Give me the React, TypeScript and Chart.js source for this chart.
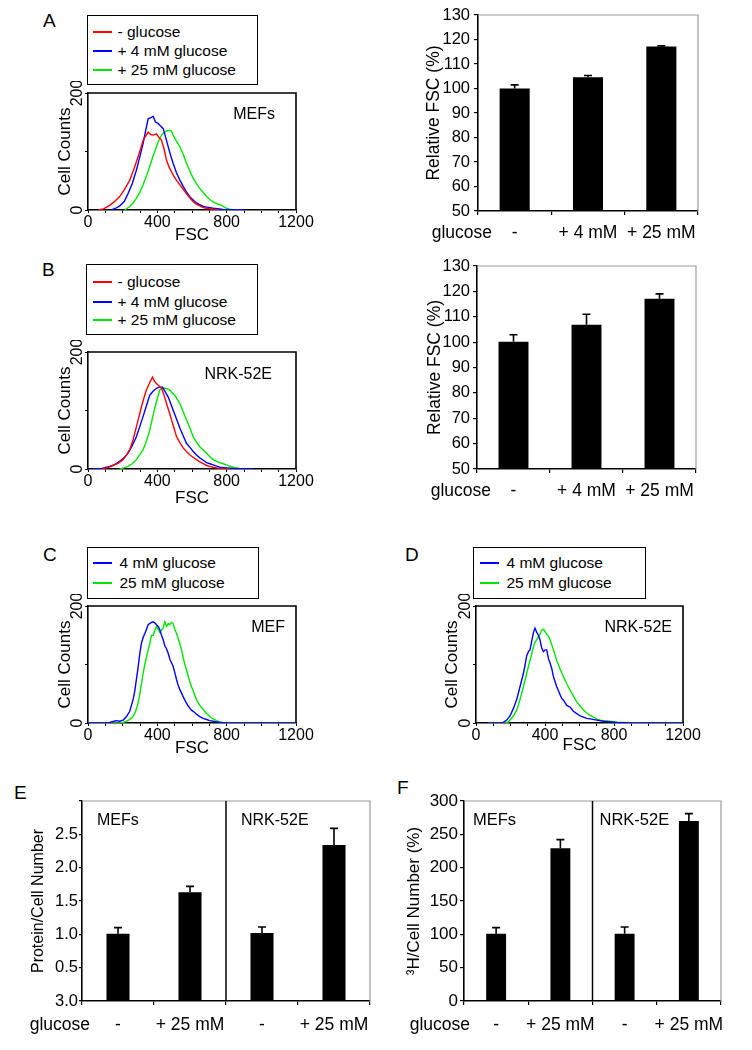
import React, { useEffect, useRef } from "react";
import { Chart, registerables } from "chart.js";

Chart.register(...registerables);

const FONT = "'Liberation Sans', Arial, Helvetica, sans-serif";
Chart.defaults.font.family = FONT;
Chart.defaults.color = "#000";

// ---------------- Histogram data (FSC channel vs. cell counts) ----------------
const A_NOGLC_FSC = [58, 90, 125, 155, 183, 210, 241, 265, 289, 305, 318, 332, 347, 362, 376, 395, 410, 424, 440, 453, 470, 491, 510, 530, 550, 568, 590, 607, 625, 645, 665, 684, 722, 760];
const A_NOGLC_COUNT = [0, 2, 8, 15, 23, 35, 51, 70, 91, 106, 119, 126, 133, 129, 128, 130, 124, 119, 103, 85, 72, 60, 51, 43, 35, 28, 20, 14, 10, 7, 4, 3, 1, 0];
const A_4MM_FSC = [135, 160, 183, 210, 231, 255, 279, 300, 318, 332, 347, 362, 376, 390, 405, 420, 434, 450, 463, 477, 491, 510, 530, 550, 568, 590, 607, 625, 645, 665, 684, 722, 780, 850, 905];
const A_4MM_COUNT = [0, 3, 7, 15, 28, 45, 68, 92, 114, 135, 156, 158, 160, 150, 148, 143, 139, 122, 108, 93, 80, 64, 51, 40, 31, 22, 17, 12, 9, 6, 5, 3, 1, 0.3, 0];
const A_25MM_FSC = [212, 241, 260, 279, 300, 318, 337, 356, 375, 395, 410, 424, 440, 453, 468, 482, 491, 510, 530, 550, 568, 590, 607, 625, 645, 665, 684, 703, 722, 742, 761, 780, 799, 818, 838, 876];
const A_25MM_COUNT = [0, 6, 12, 20, 31, 43, 58, 74, 92, 108, 120, 128, 133, 135, 136, 135, 128, 118, 108, 95, 80, 65, 54, 45, 37, 30, 23, 18, 14, 11, 9, 6, 3, 1.5, 0.5, 0];

const B_NOGLC_FSC = [80, 110, 145, 175, 202, 222, 241, 260, 279, 294, 308, 322, 337, 355, 372, 384, 395, 410, 424, 440, 453, 468, 482, 496, 511, 530, 549, 568, 588, 607, 626, 645, 665, 684, 703, 722, 742, 780, 820];
const B_NOGLC_COUNT = [0, 2, 6, 10, 16, 24, 33, 50, 72, 89, 106, 121, 135, 147, 157, 150, 146, 142, 138, 125, 112, 98, 84, 70, 55, 45, 36, 30, 24, 20, 16, 12, 9, 6, 4.5, 3, 2, 0.5, 0];
const B_4MM_FSC = [29, 80, 125, 155, 183, 207, 231, 255, 279, 298, 318, 337, 356, 375, 395, 412, 430, 447, 463, 477, 491, 510, 530, 549, 568, 588, 607, 626, 645, 665, 684, 703, 722, 742, 761, 800, 838, 900, 953];
const B_4MM_COUNT = [0, 1, 4.5, 8, 13, 19, 27, 40, 55, 72, 90, 108, 126, 133, 138, 140, 140, 131, 123, 112, 101, 86, 70, 57, 44, 37, 30, 24, 19, 15, 11, 9, 7, 5, 3, 2, 1, 0.5, 0];
const B_25MM_FSC = [183, 207, 231, 255, 279, 298, 318, 337, 356, 370, 385, 400, 414, 428, 443, 458, 472, 487, 501, 515, 530, 549, 568, 588, 607, 626, 645, 665, 684, 703, 722, 742, 761, 780, 799, 818, 838, 857, 876, 920];
const B_25MM_COUNT = [0, 2, 4.5, 9, 16, 24, 33, 48, 66, 85, 104, 120, 135, 138, 138, 137, 135, 130, 126, 119, 112, 98, 84, 70, 55, 46, 38, 32, 27, 21, 16, 13, 11, 9, 7, 5, 3, 2, 1, 0];

const C_4MM_FSC = [0, 100, 125, 150, 164, 183, 203, 222, 241, 260, 270, 279, 289, 299, 308, 318, 328, 337, 347, 356, 366, 376, 386, 395, 405, 414, 424, 434, 443, 453, 463, 472, 482, 491, 501, 511, 520, 530, 540, 549, 559, 568, 578, 588, 597, 607, 626, 645, 665, 684, 703, 722, 742, 761, 800, 1200];
const C_4MM_COUNT = [0, 0, 1, 3, 4, 3, 5, 11, 20, 40, 55, 74, 95, 119, 136, 146, 153, 160, 168, 170, 172, 173, 171, 168, 165, 160, 150, 142, 132, 127, 119, 109, 103, 97, 86, 74, 65, 57, 51, 45, 39, 34, 29, 25, 22, 20, 15, 11, 8, 6, 4, 3, 2, 1, 0, 0];
const C_25MM_FSC = [0, 183, 203, 222, 241, 260, 275, 289, 299, 308, 318, 328, 337, 347, 356, 366, 376, 385, 395, 405, 414, 424, 434, 443, 453, 463, 472, 482, 491, 501, 511, 520, 530, 540, 549, 559, 568, 578, 588, 597, 607, 617, 626, 645, 665, 684, 703, 722, 742, 761, 780, 820, 1200];
const C_25MM_COUNT = [0, 0, 1, 3, 6, 11, 20, 34, 50, 66, 85, 100, 112, 125, 135, 150, 150, 158, 165, 160, 155, 159, 162, 173, 165, 170, 168, 172, 170, 160, 153, 145, 135, 125, 112, 100, 91, 80, 70, 62, 55, 47, 40, 30, 23, 16, 11, 7, 4, 2, 1, 0, 0];

const D_4MM_FSC = [72, 140, 159, 178, 197, 217, 236, 255, 275, 285, 294, 304, 313, 323, 333, 342, 352, 362, 371, 381, 391, 401, 410, 420, 430, 440, 449, 459, 468, 478, 488, 497, 507, 526, 546, 565, 584, 604, 623, 642, 662, 700, 739, 778, 817, 860, 900, 1200];
const D_4MM_COUNT = [0, 0, 1, 5, 12, 25, 40, 62, 85, 100, 115, 122, 125, 140, 155, 162, 155, 150, 142, 128, 122, 125, 125, 110, 102, 92, 79, 70, 62, 55, 48, 42, 39, 30, 27, 20, 16, 12, 10, 8, 7, 5, 3, 2, 1, 0.5, 0, 0];
const D_25MM_FSC = [72, 168, 188, 197, 217, 236, 255, 275, 294, 313, 323, 333, 342, 352, 362, 371, 381, 391, 401, 410, 420, 430, 449, 468, 488, 507, 526, 546, 565, 584, 604, 623, 642, 662, 681, 700, 720, 739, 778, 817, 855, 900, 950, 1200];
const D_25MM_COUNT = [0, 0, 2, 5, 12, 22, 40, 62, 85, 107, 118, 130, 138, 142, 148, 152, 159, 160, 156, 152, 148, 142, 125, 107, 92, 79, 67, 56, 46, 36, 29, 22, 17, 13, 10, 7, 5, 4, 3, 1.5, 1, 0.5, 0, 0];

const HIST_X_LABELS = [0, 400, 800, 1200];
const HIST_Y_LABELS = [0, 200];

// ---------------- Bar data ----------------
const GLUCOSE_3 = ["-", "+ 4 mM", "+ 25 mM"];
const A_REL_FSC = [100, 104.6, 117.1];
const A_REL_FSC_ERR = [1.5, 0.7, 0.3];
const B_REL_FSC = [100.1, 106.8, 117.1];
const B_REL_FSC_ERR = [2.8, 4.2, 1.9];

const GLUCOSE_4 = ["-", "+ 25 mM", "-", "+ 25 mM"];
const E_PROTEIN = [1.01, 1.63, 1.02, 2.34];
const E_PROTEIN_ERR = [0.09, 0.09, 0.09, 0.25];
const E_Y_TICK_LABELS = ["3.0", "0.5", "1.0", "1.5", "2.0", "2.5", ""];
const F_THYMIDINE = [101, 229, 101, 270];
const F_THYMIDINE_ERR = [9, 13, 10, 11];

const RED = "#ff0000";
const BLUE = "#0000ff";
const GREEN = "#00e600";

// ---------------- helpers ----------------
const pts = (xs: number[], ys: number[]) => xs.map((x, i) => ({ x, y: ys[i] }));
const fixW = (w: number) => (s: any) => {
  s.width = w;
  s.paddingTop = 0;
  s.paddingBottom = 0;
  s.paddingLeft = 0;
  s.paddingRight = 0;
};
const fixH = (h: number) => (s: any) => {
  s.height = h;
  s.paddingLeft = 0;
  s.paddingRight = 0;
  s.paddingTop = 0;
  s.paddingBottom = 0;
};

type Margins = { L: number; T: number; R: number; B: number };
type Area = { left: number; top: number; w: number; h: number };

function framePlugin(color: string, width: number, divider: boolean) {
  return {
    id: "frame",
    afterDraw(chart: any) {
      const { ctx, chartArea } = chart;
      const { left, right, top, bottom } = chartArea;
      ctx.save();
      ctx.strokeStyle = color;
      ctx.lineWidth = width;
      ctx.beginPath();
      ctx.moveTo(left, top);
      ctx.lineTo(right, top);
      ctx.lineTo(right, bottom);
      ctx.stroke();
      if (divider) {
        const xs = chart.scales.x;
        const dx = (xs.getPixelForValue(1) + xs.getPixelForValue(2)) / 2;
        ctx.strokeStyle = "#000";
        ctx.lineWidth = 1.5;
        ctx.beginPath();
        ctx.moveTo(dx, top);
        ctx.lineTo(dx, bottom);
        ctx.stroke();
      }
      ctx.restore();
    },
  };
}

function rotatedYTicks(values: number[], size: number, gap: number) {
  return {
    id: "rotYTicks",
    afterDraw(chart: any) {
      const { ctx, chartArea } = chart;
      const ys = chart.scales.y;
      ctx.save();
      ctx.font = `${size}px ${FONT}`;
      ctx.fillStyle = "#000";
      ctx.textAlign = "center";
      ctx.textBaseline = "alphabetic";
      for (const v of values) {
        const y = ys.getPixelForValue(v);
        ctx.save();
        ctx.translate(chartArea.left - gap, y);
        ctx.rotate(-Math.PI / 2);
        ctx.fillText(String(v), 0, 0);
        ctx.restore();
      }
      ctx.restore();
    },
  };
}

type Inner = { text: string; from: "left" | "right" | "divider"; dx: number; dy: number; size: number };
function innerText(items: Inner[]) {
  return {
    id: "innerText",
    afterDraw(chart: any) {
      const { ctx, chartArea } = chart;
      ctx.save();
      ctx.fillStyle = "#000";
      ctx.textBaseline = "alphabetic";
      for (const t of items) {
        ctx.font = `${t.size}px ${FONT}`;
        let x = chartArea.left + t.dx;
        ctx.textAlign = "left";
        if (t.from === "right") {
          x = chartArea.right - t.dx;
          ctx.textAlign = "right";
        } else if (t.from === "divider") {
          const xs = chart.scales.x;
          x = (xs.getPixelForValue(1) + xs.getPixelForValue(2)) / 2 + t.dx;
        }
        ctx.fillText(t.text, x, chartArea.top + t.dy);
      }
      ctx.restore();
    },
  };
}

function rowLabel(text: string, dx: number, size: number, tl: number, pad: number) {
  return {
    id: "rowLabel",
    afterDraw(chart: any) {
      const { ctx, chartArea } = chart;
      const xs = chart.scales.x;
      ctx.save();
      ctx.font = `${size}px ${FONT}`;
      ctx.fillStyle = "#000";
      ctx.textAlign = "right";
      ctx.textBaseline = "middle";
      ctx.fillText(text, chartArea.left + dx, xs.top + tl + pad + (size * 1.2) / 2);
      ctx.restore();
    },
  };
}

function errorBars(values: number[], errors: number[], cap: number) {
  return {
    id: "errorBars",
    afterDatasetsDraw(chart: any) {
      const { ctx } = chart;
      const ys = chart.scales.y;
      const meta = chart.getDatasetMeta(0);
      ctx.save();
      ctx.strokeStyle = "#000";
      ctx.lineWidth = 1.6;
      meta.data.forEach((bar: any, i: number) => {
        const top = ys.getPixelForValue(values[i] + errors[i]);
        ctx.beginPath();
        ctx.moveTo(bar.x, bar.y);
        ctx.lineTo(bar.x, top);
        ctx.moveTo(bar.x - cap / 2, top);
        ctx.lineTo(bar.x + cap / 2, top);
        ctx.stroke();
      });
      ctx.restore();
    },
  };
}

// ---------------- configs ----------------
const HM: Margins = { L: 40, T: 12, R: 22, B: 40 };

type Series = { fsc: number[]; count: number[]; color: string };
function histConfig(series: Series[], inner: Inner[], yTitlePad: number, xTitlePad: number) {
  return {
    type: "line",
    data: {
      datasets: series.map((s) => ({
        data: pts(s.fsc, s.count),
        borderColor: s.color,
        borderWidth: 1.4,
        pointRadius: 0,
        tension: 0,
        fill: false,
      })),
    },
    options: {
      responsive: false,
      animation: false,
      events: [],
      layout: { padding: { left: 0, top: HM.T, right: HM.R, bottom: 0 } },
      plugins: { legend: { display: false }, tooltip: { enabled: false } },
      scales: {
        x: {
          type: "linear",
          min: 0,
          max: 1200,
          afterFit: fixH(HM.B),
          border: { color: "#000", width: 1.6 },
          grid: { drawOnChartArea: false, tickLength: 3, color: "#000", lineWidth: 1 },
          ticks: {
            stepSize: 100,
            autoSkip: false,
            maxRotation: 0,
            padding: 0,
            color: "#000",
            font: { size: 16 },
            callback: (v: number) => (HIST_X_LABELS.includes(v) ? String(v) : ""),
          },
          title: { display: true, text: "FSC", color: "#000", font: { size: 17 }, padding: { top: 0, bottom: xTitlePad } },
        },
        y: {
          type: "linear",
          min: 0,
          max: 200,
          afterFit: fixW(HM.L),
          border: { color: "#000", width: 1.6 },
          grid: { drawOnChartArea: false, tickLength: 3, color: "#000", lineWidth: 1 },
          ticks: { stepSize: 100, display: false },
          title: { display: true, text: "Cell Counts", color: "#000", font: { size: 17 }, padding: { top: yTitlePad, bottom: 0 } },
        },
      },
    },
    plugins: [framePlugin("#000", 1.6, false), rotatedYTicks(HIST_Y_LABELS, 16, 6), innerText(inner)],
  };
}

type BarOpts = {
  labels: string[];
  values: number[];
  errors: number[];
  yMin: number;
  yMax: number;
  step: number;
  yTickLabels?: string[];
  title: string;
  titleSize: number;
  titlePad: number;
  tickSize: number;
  tickLen: number;
  tickPad: number;
  xSize: number;
  xPad: number;
  barPct: number;
  m: Margins;
  divider: boolean;
  inner: Inner[];
  rowDx: number;
};

function barConfig(o: BarOpts) {
  return {
    type: "bar",
    data: {
      labels: o.labels,
      datasets: [
        {
          data: o.values,
          backgroundColor: "#000",
          borderWidth: 0,
          barPercentage: o.barPct,
          categoryPercentage: 1,
        },
      ],
    },
    options: {
      responsive: false,
      animation: false,
      events: [],
      layout: { padding: { left: 0, top: o.m.T, right: o.m.R, bottom: 0 } },
      plugins: { legend: { display: false }, tooltip: { enabled: false } },
      scales: {
        x: {
          afterFit: fixH(o.m.B),
          border: { color: "#000", width: 1.6 },
          grid: { offset: true, drawOnChartArea: false, tickLength: 4, color: "#000", lineWidth: 1.2 },
          ticks: { color: "#000", font: { size: o.xSize }, padding: o.xPad, maxRotation: 0, autoSkip: false },
        },
        y: {
          type: "linear",
          min: o.yMin,
          max: o.yMax,
          afterFit: fixW(o.m.L),
          border: { color: "#000", width: 1.6 },
          grid: { drawOnChartArea: false, tickLength: o.tickLen, color: "#000", lineWidth: 1.2 },
          ticks: {
            stepSize: o.step,
            color: "#000",
            padding: o.tickPad,
            font: { size: o.tickSize },
            callback: (v: number, i: number) => (o.yTickLabels ? o.yTickLabels[i] ?? "" : String(v)),
          },
          title: { display: true, text: o.title, color: "#000", font: { size: o.titleSize }, padding: { top: o.titlePad, bottom: 0 } },
        },
      },
    },
    plugins: [
      framePlugin("#9a9a9a", 1.2, o.divider),
      errorBars(o.values, o.errors, 8),
      innerText(o.inner),
      rowLabel("glucose", o.rowDx, o.xSize, 4, o.xPad),
    ],
  };
}

// ---------------- components ----------------
function ChartBox({ area, m, config }: { area: Area; m: Margins; config: any }) {
  const ref = useRef<HTMLCanvasElement | null>(null);
  const w = area.w + m.L + m.R;
  const h = area.h + m.T + m.B;
  useEffect(() => {
    const chart = new Chart(ref.current as HTMLCanvasElement, config);
    return () => chart.destroy();
  }, []);
  return (
    <canvas
      ref={ref}
      width={w}
      height={h}
      style={{ position: "absolute", left: area.left - m.L, top: area.top - m.T, width: w, height: h }}
    />
  );
}

type LegendItem = { label: string; color: string; y: number };
function Legend({ left, top, width, height, lineX, textX, items }: { left: number; top: number; width: number; height: number; lineX: number; textX: number; items: LegendItem[] }) {
  const bw = 1.5;
  return (
    <div
      style={{
        position: "absolute",
        left,
        top,
        width,
        height,
        boxSizing: "border-box",
        border: `${bw}px solid #000`,
        fontFamily: FONT,
      }}
    >
      {items.map((it) => (
        <React.Fragment key={it.label}>
          <div
            style={{
              position: "absolute",
              left: lineX - left - bw,
              top: it.y - top - bw - 1,
              width: 19,
              height: 2,
              background: it.color,
            }}
          />
          <div
            style={{
              position: "absolute",
              left: textX - left - bw,
              top: it.y - top - bw - 9,
              height: 18,
              lineHeight: "18px",
              fontSize: 15.5,
              whiteSpace: "nowrap",
              color: "#000",
            }}
          >
            {it.label}
          </div>
        </React.Fragment>
      ))}
    </div>
  );
}

function Letter({ ch, x, capTop }: { ch: string; x: number; capTop: number }) {
  return (
    <div
      style={{
        position: "absolute",
        left: x,
        top: capTop - 2.5,
        fontFamily: FONT,
        fontSize: 19,
        lineHeight: "19px",
        color: "#000",
      }}
    >
      {ch}
    </div>
  );
}

const BAR_M_AB: Margins = { L: 60, T: 12, R: 15, B: 40 };
const BAR_M_E: Margins = { L: 60, T: 12, R: 15, B: 40 };
const BAR_M_F: Margins = { L: 64, T: 12, R: 15, B: 40 };

export default function App() {
  const histA = histConfig(
    [
      { fsc: A_NOGLC_FSC, count: A_NOGLC_COUNT, color: RED },
      { fsc: A_4MM_FSC, count: A_4MM_COUNT, color: BLUE },
      { fsc: A_25MM_FSC, count: A_25MM_COUNT, color: GREEN },
    ],
    [{ text: "MEFs", from: "right", dx: 21, dy: 25.5, size: 16 }],
    6.8,
    4.3
  );
  const histB = histConfig(
    [
      { fsc: B_NOGLC_FSC, count: B_NOGLC_COUNT, color: RED },
      { fsc: B_4MM_FSC, count: B_4MM_COUNT, color: BLUE },
      { fsc: B_25MM_FSC, count: B_25MM_COUNT, color: GREEN },
    ],
    [{ text: "NRK-52E", from: "right", dx: 24, dy: 26.5, size: 16 }],
    6.8,
    0
  );
  const histC = histConfig(
    [
      { fsc: C_4MM_FSC, count: C_4MM_COUNT, color: BLUE },
      { fsc: C_25MM_FSC, count: C_25MM_COUNT, color: GREEN },
    ],
    [{ text: "MEF", from: "right", dx: 11, dy: 25.5, size: 16 }],
    6.8,
    4.3
  );
  const histD = histConfig(
    [
      { fsc: D_4MM_FSC, count: D_4MM_COUNT, color: BLUE },
      { fsc: D_25MM_FSC, count: D_25MM_COUNT, color: GREEN },
    ],
    [{ text: "NRK-52E", from: "right", dx: 11, dy: 25.5, size: 16 }],
    6.3,
    7.3
  );

  const barA = barConfig({
    labels: GLUCOSE_3,
    values: A_REL_FSC,
    errors: A_REL_FSC_ERR,
    yMin: 50,
    yMax: 130,
    step: 10,
    title: "Relative FSC (%)",
    titleSize: 17.5,
    titlePad: 6,
    tickSize: 16.5,
    tickLen: 4,
    tickPad: 4,
    xSize: 17.5,
    xPad: 8,
    barPct: 0.41,
    m: BAR_M_AB,
    divider: false,
    inner: [],
    rowDx: 14,
  });
  const barB = barConfig({
    labels: GLUCOSE_3,
    values: B_REL_FSC,
    errors: B_REL_FSC_ERR,
    yMin: 50,
    yMax: 130,
    step: 10,
    title: "Relative FSC (%)",
    titleSize: 17.5,
    titlePad: 7.5,
    tickSize: 16.5,
    tickLen: 4,
    tickPad: 3,
    xSize: 17.5,
    xPad: 8,
    barPct: 0.41,
    m: BAR_M_AB,
    divider: false,
    inner: [],
    rowDx: 14,
  });
  const barE = barConfig({
    labels: GLUCOSE_4,
    values: E_PROTEIN,
    errors: E_PROTEIN_ERR,
    yMin: 0,
    yMax: 3,
    step: 0.5,
    yTickLabels: E_Y_TICK_LABELS,
    title: "Protein/Cell Number",
    titleSize: 16,
    titlePad: 7,
    tickSize: 16.5,
    tickLen: 3,
    tickPad: 1,
    xSize: 17.5,
    xPad: 9.5,
    barPct: 0.32,
    m: BAR_M_E,
    divider: true,
    inner: [
      { text: "MEFs", from: "left", dx: 15, dy: 24, size: 16 },
      { text: "NRK-52E", from: "divider", dx: 15, dy: 24, size: 16 },
    ],
    rowDx: 8,
  });
  const barF = barConfig({
    labels: GLUCOSE_4,
    values: F_THYMIDINE,
    errors: F_THYMIDINE_ERR,
    yMin: 0,
    yMax: 300,
    step: 50,
    title: "³H/Cell Number (%)",
    titleSize: 17,
    titlePad: 4.3,
    tickSize: 17,
    tickLen: 4,
    tickPad: 2,
    xSize: 17.5,
    xPad: 9.5,
    barPct: 0.31,
    m: BAR_M_F,
    divider: true,
    inner: [
      { text: "MEFs", from: "left", dx: 9, dy: 24, size: 16.5 },
      { text: "NRK-52E", from: "divider", dx: 7, dy: 24, size: 16.5 },
    ],
    rowDx: 6,
  });

  return (
    <div style={{ position: "absolute", left: 0, top: 0, width: 752, height: 1050, background: "#fff", overflow: "hidden" }}>
      <Letter ch="A" x={43} capTop={13} />
      <Letter ch="B" x={42} capTop={262} />
      <Letter ch="C" x={43} capTop={547} />
      <Letter ch="D" x={405} capTop={547} />
      <Letter ch="E" x={14} capTop={785} />
      <Letter ch="F" x={397} capTop={780} />

      <Legend
        left={87}
        top={15}
        width={171}
        height={70}
        lineX={93}
        textX={118}
        items={[
          { label: "-  glucose", color: RED, y: 32 },
          { label: "+ 4 mM glucose", color: BLUE, y: 51 },
          { label: "+ 25 mM glucose", color: GREEN, y: 70 },
        ]}
      />
      <Legend
        left={86}
        top={264}
        width={172}
        height={71}
        lineX={93}
        textX={118}
        items={[
          { label: "-  glucose", color: RED, y: 282 },
          { label: "+ 4 mM glucose", color: BLUE, y: 302 },
          { label: "+ 25 mM glucose", color: GREEN, y: 320 },
        ]}
      />
      <Legend
        left={87}
        top={547}
        width={172}
        height={52}
        lineX={93}
        textX={120}
        items={[
          { label: "4 mM glucose", color: BLUE, y: 563 },
          { label: "25 mM glucose", color: GREEN, y: 583 },
        ]}
      />
      <Legend
        left={473}
        top={547}
        width={173}
        height={52}
        lineX={480}
        textX={507}
        items={[
          { label: "4 mM glucose", color: BLUE, y: 563 },
          { label: "25 mM glucose", color: GREEN, y: 583 },
        ]}
      />

      <ChartBox area={{ left: 88, top: 93, w: 208, h: 117 }} m={HM} config={histA} />
      <ChartBox area={{ left: 88, top: 352, w: 208, h: 117 }} m={HM} config={histB} />
      <ChartBox area={{ left: 88, top: 606, w: 208, h: 117 }} m={HM} config={histC} />
      <ChartBox area={{ left: 476, top: 606, w: 207, h: 117 }} m={HM} config={histD} />

      <ChartBox area={{ left: 478, top: 15, w: 220, h: 196 }} m={BAR_M_AB} config={barA} />
      <ChartBox area={{ left: 477, top: 266, w: 219, h: 203 }} m={BAR_M_AB} config={barB} />
      <ChartBox area={{ left: 82, top: 801, w: 288, h: 200 }} m={BAR_M_E} config={barE} />
      <ChartBox area={{ left: 464, top: 801, w: 257, h: 200 }} m={BAR_M_F} config={barF} />
    </div>
  );
}
